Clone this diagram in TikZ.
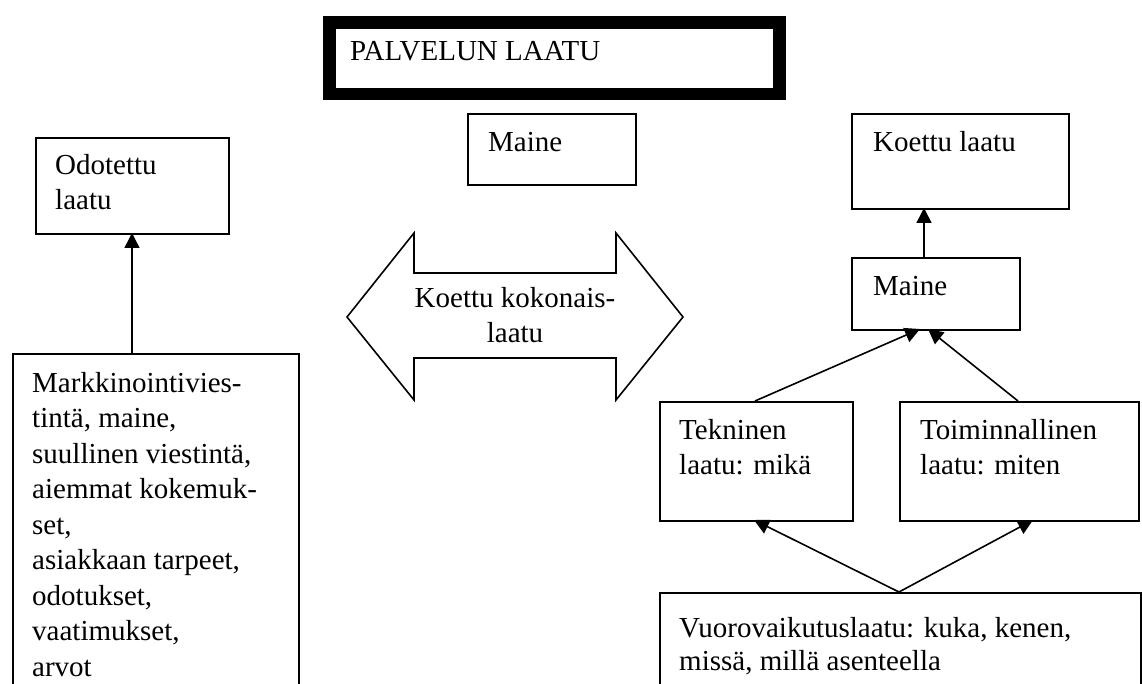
\documentclass[tikz,border=0pt]{standalone}
\usepackage{fontspec}
\setmainfont{Liberation Serif}
\usetikzlibrary{arrows.meta}
\newcommand\lstk[2]{\vtop{\baselineskip=#1\relax\halign{##\hfil\cr#2\crcr}}}
\newcommand\cstk[2]{\vtop{\baselineskip=#1\relax\halign{\hfil##\hfil\cr#2\crcr}}}
\tikzset{
  box/.style={draw, line width=1.6pt, rectangle, inner sep=0pt, anchor=north west},
  txt/.style={inner sep=0pt, anchor=base west, font=\fontsize{29}{29}\selectfont},
  con/.style={line width=1.6pt, -{Triangle[length=15pt,width=15pt]}},
}
\begin{document}
\begin{tikzpicture}[x=1pt,y=-1pt]
\useasboundingbox (0,0) rectangle (1142,684);
\fill[white] (0,0) rectangle (1142,684);
\clip (0,0) rectangle (1142,684);
% title
\node[box, line width=12.5pt, minimum width=450pt, minimum height=71.5pt] (title) at (323.25,16.25) {};
\node[txt] (titletxt) at (350,61) {PALVELUN LAATU};
% left column
\node[box, minimum width=193pt, minimum height=96pt] (odot) at (35,137) {};
\node[txt] (odottxt) at (55,175) {\lstk{35pt}{Odotettu\cr laatu}};
\node[box, minimum width=286pt, minimum height=360pt] (markk) at (12,353) {};
\node[txt] (markktxt) at (32,392) {\lstk{35.5pt}{Markkinointivies-\cr tintä, maine,\cr suullinen viestintä,\cr aiemmat kokemuk-\cr set,\cr asiakkaan tarpeet,\cr odotukset,\cr vaatimukset,\cr arvot}};
\coordinate (markktop) at (132,353);
\coordinate (odotbot) at (132,233);
\draw[con] (markktop) -- (odotbot);
% middle
\node[box, minimum width=168pt, minimum height=71pt] (maineM) at (467,113) {};
\node[txt] (maineMtxt) at (488,152) {Maine};
\draw[line width=1.6pt, line join=miter] (347,317) -- (414,233) -- (414,273) -- (616,273) -- (616,233) -- (683,317) -- (616,400) -- (616,358) -- (414,358) -- (414,400) -- cycle;
\node[txt, anchor=base] (koktxt) at (515,308) {\cstk{35pt}{Koettu kokonais-\cr laatu}};
% right column
\node[box, minimum width=217pt, minimum height=95pt] (koettu) at (851,113) {};
\node[txt] (koettutxt) at (873,152) {Koettu laatu};
\node[box, minimum width=168pt, minimum height=72pt] (maineR) at (851,257) {};
\node[txt] (maineRtxt) at (873,295) {Maine};
\node[box, minimum width=193pt, minimum height=119pt] (tek) at (659,401) {};
\node[txt] (tektxt) at (679,439) {\lstk{35pt}{Tekninen\cr laatu: mikä}};
\node[box, minimum width=239pt, minimum height=119pt] (toim) at (899,401) {};
\node[txt] (toimtxt) at (920,439) {\lstk{35pt}{Toiminnallinen\cr laatu: miten}};
\node[box, minimum width=481pt, minimum height=120pt] (vuoro) at (659,592) {};
\node[txt] (vuorotxt) at (679,637) {\lstk{33pt}{Vuorovaikutuslaatu: kuka, kenen,\cr missä, millä asenteella}};
% connectors
\coordinate (maineRtop) at (924,257);
\coordinate (koettubot) at (924,208);
\draw[con] (maineRtop) -- (koettubot);
\coordinate (tektop) at (755,401);
\coordinate (toimtop) at (1018,401);
\coordinate (maineRbotL) at (920,329);
\coordinate (maineRbotR) at (928,329);
\draw[con] (tektop) -- (maineRbotL);
\draw[con] (toimtop) -- (maineRbotR);
\coordinate (vuorotop) at (899,592);
\coordinate (tekbot) at (754,520);
\coordinate (toimbot) at (1033,520);
\draw[con] (vuorotop) -- (tekbot);
\draw[con] (vuorotop) -- (toimbot);
\end{tikzpicture}
\end{document}
